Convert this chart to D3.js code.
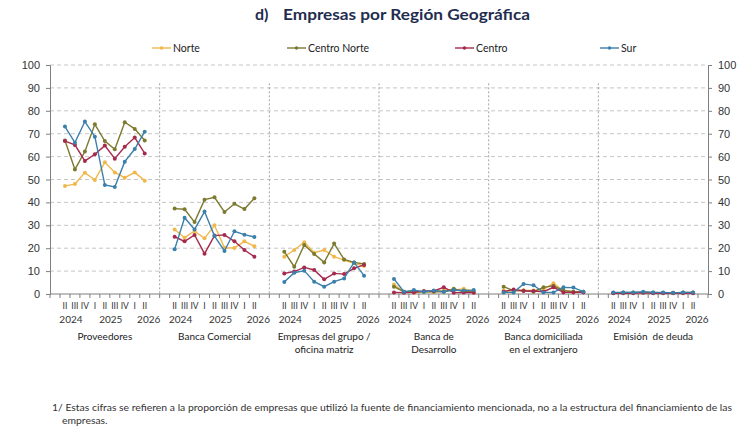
<!DOCTYPE html>
<html>
<head>
<meta charset="utf-8">
<script src="https://cdn.jsdelivr.net/npm/d3@7"></script>
<style>
  body { margin: 0; background: #fff; }
  svg { font-family: Lato, "Open Sans", sans-serif; }
  .title { font-weight: bold; fill: #1f2d4f; font-size: 16px; }
  .tick text { fill: #333; font-size: 11px; }
  .small { fill: #333; font-size: 8.5px; }
  .year { fill: #333; font-size: 10px; }
  .panel { fill: #222; font-size: 10px; white-space: pre; }
  .legend { fill: #222; font-size: 10.5px; }
  .note { fill: #333; font-size: 10.4px; }
</style>
</head>
<body>
<svg></svg>
<script>
const panels = [
  ["Proveedores"],
  ["Banca Comercial"],
  ["Empresas del grupo /", "oficina matriz"],
  ["Banca de", "Desarrollo"],
  ["Banca domiciliada", "en el extranjero"],
  ["Emisión  de deuda"],
];
const quarters = ["II", "III", "IV", "I", "II", "III", "IV", "I", "II"];
const years = ["2024", "2025", "2026"];
const yTicks = [0, 10, 20, 30, 40, 50, 60, 70, 80, 90, 100];

// one list of 9 quarters per panel
const norte = [
  [47.2, 48.0, 53.0, 49.8, 57.5, 53.1, 50.8, 53.1, 49.5],
  [28.2, 24.6, 27.5, 24.3, 30.0, 20.2, 20.1, 23.0, 20.8],
  [16.3, 19.2, 22.6, 18.0, 19.2, 16.3, 14.8, 13.4, 12.2],
  [4.2, 1.0, 0.6, 1.0, 1.0, 1.7, 1.7, 2.3, 1.0],
  [1.5, 1.3, 1.5, 1.5, 2.0, 4.7, 1.5, 1.0, 1.0],
  [0.5, 0.5, 0.5, 0.7, 0.5, 0.5, 0.5, 0.5, 0.5],
];
const centroNorte = [
  [67.0, 54.4, 62.2, 74.1, 66.8, 63.2, 75.0, 72.1, 67.0],
  [37.3, 37.0, 31.4, 41.2, 42.2, 35.8, 39.4, 37.1, 41.8],
  [18.5, 11.9, 21.4, 17.5, 13.8, 22.0, 15.1, 13.8, 13.1],
  [3.2, 1.0, 1.0, 1.0, 1.0, 1.0, 2.3, 1.0, 1.0],
  [3.2, 1.5, 1.5, 1.0, 2.9, 3.6, 1.5, 1.0, 1.0],
  [0.5, 0.7, 0.7, 0.7, 0.7, 0.5, 0.5, 0.7, 0.7],
];
const centro = [
  [66.8, 65.1, 58.1, 61.0, 64.8, 59.1, 64.3, 68.3, 61.4],
  [25.0, 23.0, 25.8, 17.6, 25.5, 25.8, 23.0, 19.2, 16.3],
  [9.0, 9.8, 11.6, 10.5, 6.4, 9.0, 8.7, 11.2, 12.7],
  [0.7, 0.6, 0.7, 1.3, 1.3, 2.9, 0.6, 0.7, 0.6],
  [1.0, 2.0, 1.3, 1.3, 1.0, 2.9, 0.7, 0.7, 0.7],
  [0.3, 0.3, 0.3, 0.5, 0.3, 0.3, 0.3, 0.3, 0.3],
];
const sur = [
  [73.1, 66.1, 75.3, 68.7, 47.6, 46.7, 57.8, 63.3, 70.9],
  [19.5, 33.3, 28.2, 36.0, 25.3, 18.8, 27.4, 25.9, 24.9],
  [5.2, 9.3, 10.2, 5.4, 3.2, 5.4, 6.8, 13.8, 8.0],
  [6.6, 1.0, 1.7, 1.0, 1.5, 1.0, 1.7, 1.5, 1.7],
  [0.7, 0.7, 4.4, 3.8, 0.7, 0.7, 2.9, 2.8, 1.0],
  [0.7, 0.7, 0.7, 1.0, 0.7, 0.7, 0.5, 0.7, 0.7],
];

const series = [
  { name: "Norte", values: norte, color: "#f0b84c" },
  { name: "Centro Norte", values: centroNorte, color: "#7c7a2f" },
  { name: "Centro", values: centro, color: "#a52a4c" },
  { name: "Sur", values: sur, color: "#3b7fab" },
];

const width = 750, height = 434;
const svg = d3.select("svg").attr("width", width).attr("height", height);

const plotLeft = 50, plotRight = 708, plotTop = 65, plotBottom = 294;
const slotsPerPanel = 11; // blank, 9 quarters, blank

// every slot of every panel is one band of the category axis
const slots = d3.range(panels.length * slotsPerPanel);
const xScale = d3.scaleBand().domain(slots).range([plotLeft, plotRight]).padding(0);
const bw = xScale.bandwidth();
const xCenter = (p, i) => xScale(p * slotsPerPanel + Math.floor(i)) + bw * (0.5 + i - Math.floor(i));

const yScale = d3.scaleLinear().domain([0, 100]).range([plotBottom, plotTop]);

// title: "d)" and the text are spaced apart
svg.append("text").attr("class", "title").attr("x", 255).attr("y", 20).text("d)");
svg.append("text").attr("class", "title").attr("x", 283).attr("y", 20)
  .attr("textLength", 247).attr("lengthAdjust", "spacingAndGlyphs")
  .text("Empresas por Región Geográfica");

// gridlines
svg.append("g").selectAll("line").data(yTicks.filter(d => d > 0)).join("line")
  .attr("x1", plotLeft).attr("x2", plotRight)
  .attr("y1", d => yScale(d)).attr("y2", d => yScale(d))
  .attr("stroke", "#b8b8b8").attr("stroke-width", 0.8)
  .attr("stroke-dasharray", "4,3");

// panel separators
svg.append("g").selectAll("line").data(d3.range(1, panels.length)).join("line")
  .attr("x1", p => xScale(p * slotsPerPanel)).attr("x2", p => xScale(p * slotsPerPanel))
  .attr("y1", yScale(92)).attr("y2", plotBottom)
  .attr("stroke", "#8c8c8c").attr("stroke-width", 0.8)
  .attr("stroke-dasharray", "2,2");

// y axes
const yAxisL = d3.axisLeft(yScale).tickValues(yTicks).tickSize(4).tickPadding(6);
const yAxisR = d3.axisRight(yScale).tickValues(yTicks).tickSize(4).tickPadding(6);
const yl = svg.append("g").attr("transform", `translate(${plotLeft},0)`).call(yAxisL);
const yr = svg.append("g").attr("transform", `translate(${plotRight},0)`).call(yAxisR);
[yl, yr].forEach(g => {
  g.select(".domain").attr("stroke", "#7f7f7f");
  g.selectAll(".tick line").attr("stroke", "#7f7f7f");
});

// x axis with a tick at every slot boundary
const xAxisG = svg.append("g");
xAxisG.append("line").attr("x1", plotLeft).attr("x2", plotRight)
  .attr("y1", plotBottom).attr("y2", plotBottom).attr("stroke", "#7f7f7f");
xAxisG.selectAll("line.tk").data(d3.range(slots.length + 1)).join("line")
  .attr("class", "tk")
  .attr("x1", i => plotLeft + i * bw).attr("x2", i => plotLeft + i * bw)
  .attr("y1", plotBottom).attr("y2", plotBottom + 4)
  .attr("stroke", "#7f7f7f");

const yearPos = [1.6, 5.6, 9.4];
panels.forEach((lines, p) => {
  const g = xAxisG.append("g");
  g.selectAll("text.q").data(quarters).join("text")
    .attr("class", "small")
    .attr("x", (d, i) => xCenter(p, i + 1)).attr("y", 309)
    .attr("text-anchor", "middle").text(d => d);
  g.selectAll("text.y").data(years).join("text")
    .attr("class", "year")
    .attr("x", (d, i) => xCenter(p, yearPos[i])).attr("y", 323)
    .attr("text-anchor", "middle").text(d => d);
  g.selectAll("text.p").data(lines).join("text")
    .attr("class", "panel")
    .attr("x", xScale(p * slotsPerPanel) + bw * slotsPerPanel / 2)
    .attr("y", (d, i) => 340 + i * 13)
    .attr("text-anchor", "middle").text(d => d);
});

// lines and markers, one path per panel
const line = d3.line().x(d => d.x).y(d => yScale(d.v));
series.forEach(s => {
  const g = svg.append("g");
  s.values.forEach((vals, p) => {
    const pts = vals.map((v, i) => ({ x: xCenter(p, i + 1), v }));
    g.append("path").attr("d", line(pts))
      .attr("fill", "none").attr("stroke", s.color).attr("stroke-width", 1.4);
    g.selectAll(null).data(pts).join("circle")
      .attr("cx", d => d.x).attr("cy", d => yScale(d.v)).attr("r", 2)
      .attr("fill", s.color);
  });
});

// legend
const legendX = [152, 287, 455, 600];
const lg = svg.append("g").selectAll("g").data(series).join("g")
  .attr("transform", (d, i) => `translate(${legendX[i]},48)`);
lg.append("line").attr("x1", 0).attr("x2", 19).attr("stroke", d => d.color).attr("stroke-width", 1.4);
lg.append("circle").attr("cx", 9.5).attr("r", 1.8).attr("fill", d => d.color);
lg.append("text").attr("class", "legend").attr("x", 21).attr("y", 4).text(d => d.name);

// footnote
svg.append("text").attr("class", "note").attr("x", 52).attr("y", 411)
  .attr("textLength", 680).attr("lengthAdjust", "spacingAndGlyphs")
  .text("1/ Estas cifras se refieren a la proporción de empresas que utilizó la fuente de financiamiento mencionada, no a la estructura del financiamiento de las");
svg.append("text").attr("class", "note").attr("x", 62).attr("y", 424)
  .text("empresas.");
</script>
</body>
</html>
